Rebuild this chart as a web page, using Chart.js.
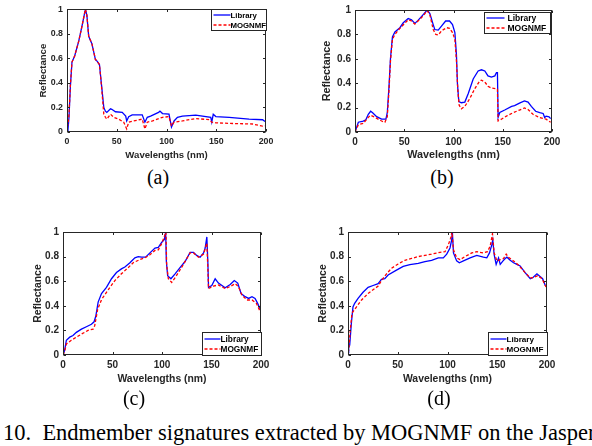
<!DOCTYPE html>
<html>
<head>
<meta charset="utf-8">
<script src="https://cdn.jsdelivr.net/npm/chart.js@4/dist/chart.umd.min.js"></script>
<style>
body { margin: 0; background: #fff; width: 592px; height: 446px; overflow: hidden; position: relative; }
canvas { position: absolute; }
.sub { position: absolute; font-family: "Liberation Serif", "Times New Roman", serif; font-size: 20px; line-height: 20px; transform: translate(-50%, -50%); }
.caption { position: absolute; left: 3px; top: 421.5px; font-family: "Liberation Serif", "Times New Roman", serif; font-size: 22.5px; line-height: 22.5px; white-space: pre; }
</style>
</head>
<body>
<canvas id="chartA"></canvas>
<canvas id="chartB"></canvas>
<canvas id="chartC"></canvas>
<canvas id="chartD"></canvas>
<div class="sub" style="left:158px;top:176.5px">(a)</div>
<div class="sub" style="left:442px;top:176.5px">(b)</div>
<div class="sub" style="left:134px;top:398px">(c)</div>
<div class="sub" style="left:439px;top:397.5px">(d)</div>
<div class="caption">10.  Endmember signatures extracted by MOGNMF on the Jasper</div>
<script>
const seriesNames = ['Library', 'MOGNMF'];
const xTicks = [0, 50, 100, 150, 200];
const yTicks = [0, 0.2, 0.4, 0.6, 0.8, 1];

// (a)
const aLibX = [0,1,2,3.4,5,7.7,11.8,15,18.5,20,21.8,25,28.6,30,32.6,34.6,37,38.6,40,43.7,45,48.7,55.5,59,60,62,65.5,75.6,78.3,80.7,84,92,93.4,96,102.5,105,107.6,111,116,129.4,144.5,145.5,147,149.6,163,183,196.6,199];
const aLibY = [0,0.02,0.12,0.37,0.57,0.62,0.74,0.86,1.0,0.95,0.78,0.72,0.59,0.58,0.55,0.39,0.2,0.17,0.16,0.19,0.185,0.165,0.16,0.13,0.09,0.125,0.14,0.14,0.08,0.12,0.13,0.16,0.17,0.15,0.145,0.04,0.09,0.12,0.13,0.137,0.12,0.08,0.145,0.126,0.12,0.105,0.1,0.085];
const aMogX = [0,1,2,3.4,5,7.7,11.8,15,18.5,20,21.8,25,28.6,30,32.6,34.6,37,38.6,40,43.7,47,52,57,60,62,67,75.6,78.3,80.7,86,96,102.5,105,107.6,116,129.4,143,145.5,149.6,163,186.5,196.6,199];
const aMogY = [0.04,0.06,0.14,0.38,0.57,0.62,0.74,0.86,1.0,0.95,0.78,0.72,0.59,0.58,0.55,0.38,0.145,0.12,0.105,0.145,0.12,0.105,0.08,0.025,0.08,0.09,0.105,0.025,0.08,0.09,0.12,0.125,0.05,0.08,0.09,0.11,0.1,0.08,0.075,0.07,0.065,0.048,0.05];

// (b)
const bLibX = [0,1.7,3.4,8.4,11,13.5,15.9,17.9,22,27,31.4,32.8,34.5,36,38,40.5,45.6,49,54,57.4,60.8,64,69,73.3,76,79.4,81,84.5,88,92,96,99,101.4,103,104,105.4,108,111.5,115,120,125,128.4,131.8,135,138.5,142,143.6,144.6,145.3,147,152,159,162,167,172,175.7,179,183.4,187.5,191,192.6,194,197,198.6];
const bLibY = [0,0.04,0.08,0.09,0.1,0.145,0.17,0.158,0.126,0.105,0.105,0.16,0.37,0.6,0.78,0.82,0.855,0.895,0.93,0.92,0.89,0.915,0.96,1.0,0.97,0.88,0.84,0.835,0.87,0.91,0.91,0.88,0.815,0.63,0.395,0.25,0.24,0.245,0.315,0.435,0.5,0.51,0.5,0.46,0.45,0.46,0.487,0.487,0.12,0.16,0.18,0.21,0.216,0.237,0.255,0.245,0.21,0.17,0.158,0.152,0.118,0.13,0.124,0.11];
const bMogX = [0,1.7,3.4,8.4,13.5,15.9,20.3,27,30.4,32.8,34.5,36,38,40.5,45.6,54,57.4,60.8,64,69,73.3,76,79.4,82,84.5,88,93,96,99,101.4,103,104.4,105.7,108,111.5,116.6,121.6,126.7,128.4,131.8,135,138.5,143.6,144.6,145.3,148.6,153.7,160.5,167,172,175.7,180.7,187.5,194,198.6];
const bMogY = [0,0.03,0.06,0.07,0.12,0.137,0.12,0.09,0.08,0.126,0.34,0.58,0.76,0.8,0.85,0.92,0.91,0.885,0.91,0.95,0.995,0.96,0.84,0.8,0.795,0.83,0.855,0.85,0.815,0.76,0.58,0.34,0.22,0.19,0.21,0.275,0.355,0.42,0.425,0.41,0.375,0.36,0.355,0.35,0.09,0.105,0.13,0.158,0.18,0.197,0.185,0.145,0.118,0.105,0.08];

// (c)
const cLibX = [0,1.7,3.4,6.8,10.1,13.5,18.6,23.6,28.7,31.4,33.1,35.5,38.9,43.9,49,54,59,62.5,67.6,72.6,76,79.4,83.4,87.8,92.9,96.3,99.6,102.4,103.7,104.4,105.7,109,113.2,118.2,123.3,128.4,131.8,135,138.5,142,143.6,145.3,146.3,147,150.3,153.7,157,163.8,168.9,173,176.5,179.9,184,187.5,190.9,194,196.6,199.3];
const cLibY = [0,0.04,0.12,0.145,0.158,0.184,0.21,0.23,0.25,0.27,0.315,0.43,0.5,0.55,0.62,0.67,0.7,0.715,0.75,0.79,0.8,0.795,0.795,0.83,0.87,0.875,0.915,0.94,1.0,0.76,0.645,0.62,0.66,0.71,0.76,0.835,0.835,0.81,0.795,0.83,0.87,0.96,0.76,0.55,0.565,0.62,0.585,0.547,0.573,0.605,0.585,0.5,0.474,0.46,0.474,0.46,0.42,0.37];
const cMogX = [0,1.7,3.4,8.4,13.5,18.6,25.3,30.4,32,35,38.9,45.6,52.4,59,65.8,70.9,77.7,82.8,87.8,92.9,96.3,99.6,103,104,104.7,106.4,109.8,113.8,120,128.4,131.8,136.9,142,145.3,146.3,147,152,157,163.8,168.9,174,177.4,180.7,185.8,190.9,195.3,200];
const cMogY = [0,0.03,0.09,0.12,0.145,0.17,0.2,0.21,0.237,0.37,0.45,0.53,0.605,0.66,0.71,0.75,0.776,0.79,0.815,0.85,0.855,0.905,0.975,1.0,0.735,0.62,0.59,0.635,0.715,0.83,0.83,0.795,0.82,0.91,0.71,0.54,0.56,0.57,0.54,0.557,0.58,0.553,0.487,0.447,0.447,0.42,0.34];

// (d)
const dLibX = [0,0.7,1.7,3.4,5,6.7,10.1,15.1,20.2,25.2,30.3,33.6,37,40.3,48.7,55.5,62.2,70.6,77.3,84,90.8,95.8,99.2,102.5,104.2,104.9,106,109.2,111.9,116,122.7,129.4,136.1,139.5,142.2,144.5,145.5,146.9,148.9,151.3,153,155.6,158,159.7,163,166.4,169.7,173,178,183.2,185.9,189.9,193.3,195.6,198.3];
const dLibY = [0.02,0.06,0.08,0.26,0.39,0.42,0.46,0.51,0.55,0.565,0.58,0.615,0.62,0.65,0.69,0.72,0.735,0.745,0.76,0.77,0.79,0.79,0.82,0.87,0.935,1.0,0.83,0.765,0.75,0.765,0.79,0.81,0.795,0.79,0.83,0.895,0.935,0.815,0.737,0.79,0.737,0.763,0.784,0.795,0.77,0.75,0.737,0.724,0.67,0.62,0.63,0.66,0.637,0.62,0.566];
const dMogX = [0,0.7,2.4,4,8.4,13.4,20.2,26.9,30.3,33.6,38.7,43.7,50.4,57.1,63.9,70.6,77.3,84,92.4,97.5,100.8,103.2,104.5,106,109.2,112.6,117.6,124.4,129.4,136.1,140.2,142.9,145.2,146.9,149.6,153,156.3,159,161.3,166.4,171.4,178,183.2,186.5,190.6,195,199];
const dMogY = [0.02,0.04,0.21,0.34,0.39,0.445,0.5,0.54,0.56,0.605,0.66,0.705,0.74,0.77,0.785,0.8,0.81,0.82,0.835,0.84,0.895,0.95,1.0,0.855,0.79,0.775,0.8,0.83,0.84,0.83,0.84,0.885,0.985,0.83,0.765,0.775,0.784,0.82,0.795,0.765,0.73,0.67,0.627,0.63,0.645,0.62,0.553];

const AXIS_COLOR = '#262626';
const SANS = '"Liberation Sans", Arial, sans-serif';

function pts(xs, ys) {
    return xs.map((x, i) => ({ x: x, y: ys[i] }));
}

// matlab style box with inward ticks
const boxAxes = {
    id: 'boxAxes',
    afterDatasetsDraw(chart) {
        const { ctx, chartArea: a, scales } = chart;
        const L = Math.round(a.left) + 0.5, R = Math.round(a.right) - 0.5;
        const T = Math.round(a.top) + 0.5, B = Math.round(a.bottom) - 0.5;
        const tl = 2.5;
        ctx.save();
        ctx.strokeStyle = AXIS_COLOR;
        ctx.lineWidth = 1;
        ctx.strokeRect(L, T, R - L, B - T);
        ctx.beginPath();
        xTicks.forEach(v => {
            const px = Math.round(scales.x.getPixelForValue(v)) + 0.5;
            ctx.moveTo(px, B); ctx.lineTo(px, B - tl);
            ctx.moveTo(px, T); ctx.lineTo(px, T + tl);
        });
        yTicks.forEach(v => {
            const py = Math.round(scales.y.getPixelForValue(v)) + 0.5;
            ctx.moveTo(L, py); ctx.lineTo(L + tl, py);
            ctx.moveTo(R, py); ctx.lineTo(R - tl, py);
        });
        ctx.stroke();
        ctx.restore();
    }
};

const boxLegend = {
    id: 'boxLegend',
    afterDraw(chart, args, opts) {
        const { ctx, chartArea: a } = chart;
        const left = Math.round(a.right - opts.dx - opts.w) + 0.5;
        const top = opts.corner === 'ne'
            ? Math.round(a.top + opts.dy) + 0.5
            : Math.round(a.bottom - opts.dy - opts.h) + 0.5;
        ctx.save();
        ctx.fillStyle = '#fff';
        ctx.fillRect(left, top, opts.w, opts.h);
        ctx.strokeStyle = AXIS_COLOR;
        ctx.lineWidth = 1;
        ctx.strokeRect(left, top, opts.w, opts.h);
        ctx.font = 'bold ' + opts.size + 'px ' + SANS;
        ctx.textBaseline = 'middle';
        ctx.fillStyle = '#000';
        chart.data.datasets.forEach((ds, i) => {
            const y = top + opts.h / 2 + (i - 0.5) * opts.gap;
            ctx.beginPath();
            ctx.strokeStyle = ds.borderColor;
            ctx.lineWidth = ds.borderWidth;
            ctx.setLineDash(ds.borderDash || []);
            ctx.moveTo(left + 2, y);
            ctx.lineTo(left + 2 + opts.lineLen, y);
            ctx.stroke();
            ctx.setLineDash([]);
            ctx.fillText(ds.label, left + opts.textX, y + 0.5);
        });
        ctx.restore();
    }
};

function makeChart(id, p, libX, libY, mogX, mogY) {
    const canvas = document.getElementById(id);
    canvas.width = p.w; canvas.height = p.h;
    canvas.style.left = p.cx + 'px';
    canvas.style.top = p.cy + 'px';

    const yAxisW = p.L - p.cx;
    const xAxisH = p.cy + p.h - p.B;
    const titleLH = p.title * 1.2;

    const config = {
        type: 'line',
        data: {
            datasets: [
                {
                    label: seriesNames[0],
                    data: pts(libX, libY),
                    borderColor: '#0000ff',
                    borderWidth: 1.3,
                    order: 1
                },
                {
                    label: seriesNames[1],
                    data: pts(mogX, mogY),
                    borderColor: '#ff0000',
                    borderWidth: 1.3,
                    borderDash: [3, 2],
                    order: 0
                }
            ]
        },
        options: {
            responsive: false,
            animation: false,
            devicePixelRatio: 1,
            elements: { point: { radius: 0 }, line: { tension: 0 } },
            layout: { padding: { left: 0, right: p.cx + p.w - p.R, top: p.T - p.cy, bottom: 0 } },
            plugins: {
                legend: { display: false },
                tooltip: { enabled: false },
                boxLegend: p.legend
            },
            scales: {
                x: {
                    type: 'linear',
                    min: 0, max: 200,
                    afterBuildTicks: s => { s.ticks = xTicks.map(v => ({ value: v })); },
                    afterFit: s => { s.height = xAxisH; },
                    grid: { display: false, drawTicks: false },
                    border: { display: false },
                    ticks: { padding: 4, maxRotation: 0, autoSkip: false, color: AXIS_COLOR,
                             font: { family: SANS, size: p.tick, weight: 'bold' } },
                    title: {
                        display: true, text: 'Wavelengths (nm)', color: AXIS_COLOR,
                        font: { family: SANS, size: p.title, weight: 'bold', lineHeight: 1.2 },
                        padding: { top: 0, bottom: p.cy + p.h - p.xTitleY - titleLH / 2 }
                    }
                },
                y: {
                    min: 0, max: 1,
                    afterBuildTicks: s => { s.ticks = yTicks.map(v => ({ value: v })); },
                    afterFit: s => { s.width = yAxisW; },
                    grid: { display: false, drawTicks: false },
                    border: { display: false },
                    ticks: { padding: 4, color: AXIS_COLOR, callback: v => String(v),
                             font: { family: SANS, size: p.tick, weight: 'bold' } },
                    title: {
                        display: true, text: 'Reflectance', color: AXIS_COLOR,
                        font: { family: SANS, size: p.title, weight: 'bold', lineHeight: 1.2 },
                        padding: { top: p.yTitleX - p.cx - titleLH / 2, bottom: 0 }
                    }
                }
            }
        },
        plugins: [boxAxes, boxLegend]
    };
    return new Chart(canvas, config);
}

makeChart('chartA',
    { cx: 0, cy: 0, w: 292, h: 166, L: 67, R: 266, T: 6, B: 132, yTitleX: 43, xTitleY: 155, tick: 8.8, title: 9.6,
      legend: { corner: 'ne', dx: 0, dy: 0, w: 55, h: 21, size: 7.8, gap: 10, lineLen: 17, textX: 19 } },
    aLibX, aLibY, aMogX, aMogY);

makeChart('chartB',
    { cx: 292, cy: 0, w: 300, h: 166, L: 355, R: 552, T: 6, B: 132, yTitleX: 327, xTitleY: 155, tick: 10, title: 10.8,
      legend: { corner: 'ne', dx: 2, dy: 2, w: 66, h: 21, size: 8.5, gap: 10, lineLen: 18, textX: 23 } },
    bLibX, bLibY, bMogX, bMogY);

makeChart('chartC',
    { cx: 0, cy: 222, w: 292, h: 168, L: 63, R: 261, T: 229, B: 355, yTitleX: 38, xTitleY: 379, tick: 10, title: 10.4,
      legend: { corner: 'se', dx: 0, dy: 0, w: 59, h: 23, size: 8.3, gap: 10, lineLen: 16, textX: 18 } },
    cLibX, cLibY, cMogX, cMogY);

makeChart('chartD',
    { cx: 292, cy: 222, w: 300, h: 168, L: 348, R: 547, T: 229, B: 355, yTitleX: 323, xTitleY: 379, tick: 10, title: 10.4,
      legend: { corner: 'se', dx: 0, dy: 0, w: 59, h: 23, size: 8.1, gap: 10, lineLen: 16, textX: 18 } },
    dLibX, dLibY, dMogX, dMogY);
</script>
</body>
</html>
